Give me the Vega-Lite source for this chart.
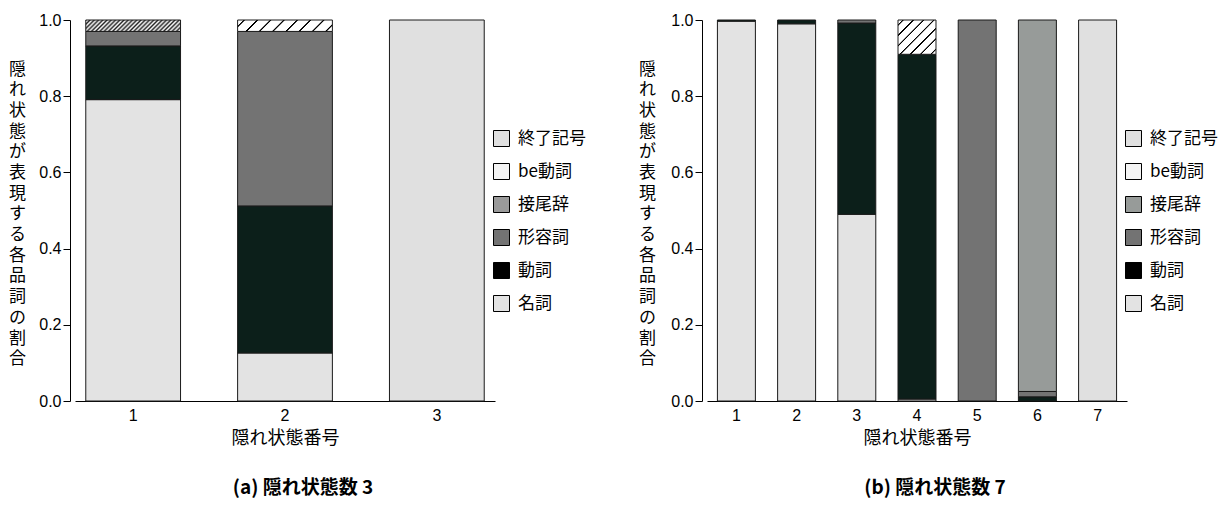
{
  "$schema": "https://vega.github.io/schema/vega-lite/v6.json",
  "background": "white",
  "padding": {"left": 8, "top": 12, "right": 0, "bottom": 0},
  "bounds": "flush",
  "spacing": 212,
  "datasets": {
    "a": [
      {"state": 1, "pos": "名詞", "k": 1, "share": 0.791},
      {"state": 1, "pos": "動詞", "k": 2, "share": 0.141},
      {"state": 1, "pos": "形容詞", "k": 3, "share": 0.038},
      {"state": 1, "pos": "接尾辞", "k": 4, "share": 0.03},
      {"state": 2, "pos": "名詞", "k": 1, "share": 0.126},
      {"state": 2, "pos": "動詞", "k": 2, "share": 0.386},
      {"state": 2, "pos": "形容詞", "k": 3, "share": 0.458},
      {"state": 2, "pos": "be動詞", "k": 5, "share": 0.03},
      {"state": 3, "pos": "終了記号", "k": 6, "share": 1.0}
    ],
    "b": [
      {"state": 1, "pos": "名詞", "k": 1, "share": 0.997},
      {"state": 1, "pos": "動詞", "k": 2, "share": 0.003},
      {"state": 2, "pos": "名詞", "k": 1, "share": 0.99},
      {"state": 2, "pos": "動詞", "k": 2, "share": 0.01},
      {"state": 3, "pos": "名詞", "k": 1, "share": 0.49},
      {"state": 3, "pos": "動詞", "k": 2, "share": 0.502},
      {"state": 3, "pos": "形容詞", "k": 3, "share": 0.008},
      {"state": 4, "pos": "名詞", "k": 1, "share": 0.005},
      {"state": 4, "pos": "動詞", "k": 2, "share": 0.905},
      {"state": 4, "pos": "be動詞", "k": 5, "share": 0.09},
      {"state": 5, "pos": "形容詞", "k": 3, "share": 1.0},
      {"state": 6, "pos": "動詞", "k": 2, "share": 0.011},
      {"state": 6, "pos": "形容詞", "k": 3, "share": 0.014},
      {"state": 6, "pos": "接尾辞", "k": 4, "share": 0.975},
      {"state": 7, "pos": "終了記号", "k": 6, "share": 1.0}
    ]
  },
  "hconcat": [
    {
      "width": 420,
      "height": 381,
      "data": {"name": "a"},
      "title": {"text": "(a) 隠れ状態数 3", "orient": "bottom", "anchor": "middle", "frame": "group", "dx": 18, "offset": 32, "font": "Noto Sans CJK JP", "fontSize": 19, "fontWeight": "bold", "color": "#000"},
      "mark": {"type": "bar", "stroke": "#1a1a1a", "strokeWidth": 1},
      "encoding": {
        "x": {
          "field": "state", "type": "ordinal",
          "scale": {"paddingInner": 0.376, "paddingOuter": 0.071},
          "axis": {"title": "隠れ状態番号", "titleFont": "Noto Sans CJK JP", "titleFontSize": 18, "titleFontWeight": "normal", "titleColor": "#000", "titlePadding": 6, "labelAngle": 0, "ticks": false, "tickSize": 0, "labelPadding": 6, "labelFont": "Liberation Sans", "labelFontSize": 16, "labelColor": "#000", "domainColor": "#000", "grid": false}
        },
        "y": {
          "field": "share", "type": "quantitative", "stack": "zero",
          "scale": {"domain": [0, 1], "nice": false},
          "axis": {"title": ["隠","れ","状","態","が","表","現","す","る","各","品","詞","の","割","合"], "titleAngle": 0, "titleX": -53, "titleY": 49, "titleBaseline": "middle", "titleAlign": "center", "titleFont": "Noto Sans CJK JP", "titleFontSize": 17, "titleFontWeight": "normal", "titleColor": "#000", "titleLineHeight": 20.7, "values": [0, 0.2, 0.4, 0.6, 0.8, 1], "format": ".1f", "offset": 5, "tickSize": 7, "labelPadding": 2, "labelFont": "Liberation Sans", "labelFontSize": 16, "labelColor": "#000", "domainColor": "#000", "tickColor": "#000", "grid": false}
        },
        "fill": {
          "condition": [
            {"test": "datum.pos === 'be動詞'", "value": {"gradient": "linear", "x1": 0, "y1": 0, "x2": 1.1045, "y2": 0.1332, "stops": [
                {"offset": 0, "color": "#ffffff"},
                {"offset": 0.0505, "color": "#ffffff"}, {"offset": 0.0575, "color": "#000000"}, {"offset": 0.0675, "color": "#000000"}, {"offset": 0.0745, "color": "#ffffff"},
                {"offset": 0.1755, "color": "#ffffff"}, {"offset": 0.1825, "color": "#000000"}, {"offset": 0.1925, "color": "#000000"}, {"offset": 0.1995, "color": "#ffffff"},
                {"offset": 0.3005, "color": "#ffffff"}, {"offset": 0.3075, "color": "#000000"}, {"offset": 0.3175, "color": "#000000"}, {"offset": 0.3245, "color": "#ffffff"},
                {"offset": 0.4255, "color": "#ffffff"}, {"offset": 0.4325, "color": "#000000"}, {"offset": 0.4425, "color": "#000000"}, {"offset": 0.4495, "color": "#ffffff"},
                {"offset": 0.5505, "color": "#ffffff"}, {"offset": 0.5575, "color": "#000000"}, {"offset": 0.5675, "color": "#000000"}, {"offset": 0.5745, "color": "#ffffff"},
                {"offset": 0.6755, "color": "#ffffff"}, {"offset": 0.6825, "color": "#000000"}, {"offset": 0.6925, "color": "#000000"}, {"offset": 0.6995, "color": "#ffffff"},
                {"offset": 0.8005, "color": "#ffffff"}, {"offset": 0.8075, "color": "#000000"}, {"offset": 0.8175, "color": "#000000"}, {"offset": 0.8245, "color": "#ffffff"},
                {"offset": 0.9255, "color": "#ffffff"}, {"offset": 0.9325, "color": "#000000"}, {"offset": 0.9425, "color": "#000000"}, {"offset": 0.9495, "color": "#ffffff"},
                {"offset": 1, "color": "#ffffff"}
              ]}},
            {"test": "datum.pos === '接尾辞'", "value": {"gradient": "linear", "x1": 0, "y1": 0, "x2": 1.1045, "y2": 0.1332, "stops": [
                {"offset": 0, "color": "#262626"}, {"offset": 0.02, "color": "#ffffff"}, {"offset": 0.04, "color": "#262626"}, {"offset": 0.06, "color": "#ffffff"},
                {"offset": 0.08, "color": "#262626"}, {"offset": 0.1, "color": "#ffffff"}, {"offset": 0.12, "color": "#262626"}, {"offset": 0.14, "color": "#ffffff"},
                {"offset": 0.16, "color": "#262626"}, {"offset": 0.18, "color": "#ffffff"}, {"offset": 0.2, "color": "#262626"}, {"offset": 0.22, "color": "#ffffff"},
                {"offset": 0.24, "color": "#262626"}, {"offset": 0.26, "color": "#ffffff"}, {"offset": 0.28, "color": "#262626"}, {"offset": 0.3, "color": "#ffffff"},
                {"offset": 0.32, "color": "#262626"}, {"offset": 0.34, "color": "#ffffff"}, {"offset": 0.36, "color": "#262626"}, {"offset": 0.38, "color": "#ffffff"},
                {"offset": 0.4, "color": "#262626"}, {"offset": 0.42, "color": "#ffffff"}, {"offset": 0.44, "color": "#262626"}, {"offset": 0.46, "color": "#ffffff"},
                {"offset": 0.48, "color": "#262626"}, {"offset": 0.5, "color": "#ffffff"}, {"offset": 0.52, "color": "#262626"}, {"offset": 0.54, "color": "#ffffff"},
                {"offset": 0.56, "color": "#262626"}, {"offset": 0.58, "color": "#ffffff"}, {"offset": 0.6, "color": "#262626"}, {"offset": 0.62, "color": "#ffffff"},
                {"offset": 0.64, "color": "#262626"}, {"offset": 0.66, "color": "#ffffff"}, {"offset": 0.68, "color": "#262626"}, {"offset": 0.7, "color": "#ffffff"},
                {"offset": 0.72, "color": "#262626"}, {"offset": 0.74, "color": "#ffffff"}, {"offset": 0.76, "color": "#262626"}, {"offset": 0.78, "color": "#ffffff"},
                {"offset": 0.8, "color": "#262626"}, {"offset": 0.82, "color": "#ffffff"}, {"offset": 0.84, "color": "#262626"}, {"offset": 0.86, "color": "#ffffff"},
                {"offset": 0.88, "color": "#262626"}, {"offset": 0.9, "color": "#ffffff"}, {"offset": 0.92, "color": "#262626"}, {"offset": 0.94, "color": "#ffffff"},
                {"offset": 0.96, "color": "#262626"}, {"offset": 0.98, "color": "#ffffff"}, {"offset": 1, "color": "#262626"}
              ]}},
            {"test": "datum.pos === '動詞'", "value": "#0c1f1a"}
          ],
          "field": "pos", "type": "nominal",
          "scale": {
            "domain": ["終了記号", "be動詞", "接尾辞", "形容詞", "動詞", "名詞"],
            "range": ["#e0e0e0", "#f4f4f4", "#9a9a9a", "#737373", "#000000", "#e3e3e3"]
          },
          "legend": {"title": null, "orient": "none", "legendX": 418, "legendY": 110, "symbolType": "square", "symbolSize": 256, "symbolStrokeColor": "#000", "symbolStrokeWidth": 1, "labelFont": "Noto Sans CJK JP", "labelFontSize": 17, "labelColor": "#000", "labelOffset": 8, "rowPadding": 12, "padding": 0}
        },
        "order": {"field": "k", "type": "quantitative"}
      }
    },
    {
      "width": 420,
      "height": 381,
      "data": {"name": "b"},
      "title": {"text": "(b) 隠れ状態数 7", "orient": "bottom", "anchor": "middle", "frame": "group", "dx": 18, "offset": 32, "font": "Noto Sans CJK JP", "fontSize": 19, "fontWeight": "bold", "color": "#000"},
      "mark": {"type": "bar", "stroke": "#1a1a1a", "strokeWidth": 1},
      "encoding": {
        "x": {
          "field": "state", "type": "ordinal",
          "scale": {"paddingInner": 0.369, "paddingOuter": 0.173},
          "axis": {"title": "隠れ状態番号", "titleFont": "Noto Sans CJK JP", "titleFontSize": 18, "titleFontWeight": "normal", "titleColor": "#000", "titlePadding": 6, "labelAngle": 0, "ticks": false, "tickSize": 0, "labelPadding": 6, "labelFont": "Liberation Sans", "labelFontSize": 16, "labelColor": "#000", "domainColor": "#000", "grid": false}
        },
        "y": {
          "field": "share", "type": "quantitative", "stack": "zero",
          "scale": {"domain": [0, 1], "nice": false},
          "axis": {"title": ["隠","れ","状","態","が","表","現","す","る","各","品","詞","の","割","合"], "titleAngle": 0, "titleX": -55, "titleY": 49, "titleBaseline": "middle", "titleAlign": "center", "titleFont": "Noto Sans CJK JP", "titleFontSize": 17, "titleFontWeight": "normal", "titleColor": "#000", "titleLineHeight": 20.7, "values": [0, 0.2, 0.4, 0.6, 0.8, 1], "format": ".1f", "offset": 5, "tickSize": 7, "labelPadding": 2, "labelFont": "Liberation Sans", "labelFontSize": 16, "labelColor": "#000", "domainColor": "#000", "tickColor": "#000", "grid": false}
        },
        "fill": {
          "condition": [
            {"test": "datum.pos === 'be動詞'", "value": {"gradient": "linear", "x1": 0, "y1": 0, "x2": 1.052, "y2": 0.9417, "stops": [
                {"offset": 0, "color": "#ffffff"},
                {"offset": 0.0554, "color": "#ffffff"}, {"offset": 0.0644, "color": "#000000"}, {"offset": 0.0784, "color": "#000000"}, {"offset": 0.0874, "color": "#ffffff"},
                {"offset": 0.1983, "color": "#ffffff"}, {"offset": 0.2073, "color": "#000000"}, {"offset": 0.2213, "color": "#000000"}, {"offset": 0.2303, "color": "#ffffff"},
                {"offset": 0.3411, "color": "#ffffff"}, {"offset": 0.3501, "color": "#000000"}, {"offset": 0.3641, "color": "#000000"}, {"offset": 0.3731, "color": "#ffffff"},
                {"offset": 0.484, "color": "#ffffff"}, {"offset": 0.493, "color": "#000000"}, {"offset": 0.507, "color": "#000000"}, {"offset": 0.516, "color": "#ffffff"},
                {"offset": 0.6269, "color": "#ffffff"}, {"offset": 0.6359, "color": "#000000"}, {"offset": 0.6499, "color": "#000000"}, {"offset": 0.6589, "color": "#ffffff"},
                {"offset": 0.7697, "color": "#ffffff"}, {"offset": 0.7787, "color": "#000000"}, {"offset": 0.7927, "color": "#000000"}, {"offset": 0.8017, "color": "#ffffff"},
                {"offset": 0.9126, "color": "#ffffff"}, {"offset": 0.9216, "color": "#000000"}, {"offset": 0.9356, "color": "#000000"}, {"offset": 0.9446, "color": "#ffffff"},
                {"offset": 1, "color": "#ffffff"}
              ]}},
            {"test": "datum.pos === '動詞'", "value": "#0c1f1a"}
          ],
          "field": "pos", "type": "nominal",
          "scale": {
            "domain": ["終了記号", "be動詞", "接尾辞", "形容詞", "動詞", "名詞"],
            "range": ["#e0e0e0", "#f4f4f4", "#979b99", "#737373", "#000000", "#e3e3e3"]
          },
          "legend": {"title": null, "orient": "none", "legendX": 418, "legendY": 110, "symbolType": "square", "symbolSize": 256, "symbolStrokeColor": "#000", "symbolStrokeWidth": 1, "labelFont": "Noto Sans CJK JP", "labelFontSize": 17, "labelColor": "#000", "labelOffset": 8, "rowPadding": 12, "padding": 0}
        },
        "order": {"field": "k", "type": "quantitative"}
      }
    }
  ],
  "resolve": {"scale": {"fill": "independent", "x": "independent"}, "legend": {"fill": "independent"}},
  "config": {"view": {"stroke": null}, "axis": {"domainWidth": 1, "tickWidth": 1}}
}
